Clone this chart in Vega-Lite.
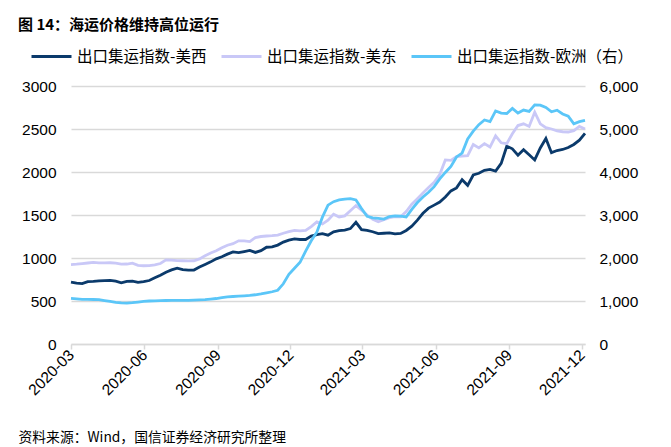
{
  "$schema": "https://vega.github.io/schema/vega-lite/v6.json",
  "width": 514,
  "height": 258,
  "autosize": {"type": "none"},
  "padding": {"left": 71, "top": 86, "right": 86, "bottom": 103},
  "background": "white",
  "title": {
    "text": "图 14：海运价格维持高位运行",
    "anchor": "start",
    "frame": "group",
    "dx": -53,
    "offset": 2,
    "fontSize": 15,
    "font": "Noto Sans CJK SC",
    "fontWeight": "bold",
    "color": "black"
  },
  "config": {
    "view": {"stroke": null},
    "axis": {"labelFont": "Liberation Sans", "labelColor": "black", "labelFontSize": 15.5}
  },
  "data": {
    "values": [
      {"d": "2020-03-06", "west": 720, "east": 924, "europe": 1060},
      {"d": "2020-03-13", "west": 708, "east": 928, "europe": 1050},
      {"d": "2020-03-20", "west": 702, "east": 935, "europe": 1040},
      {"d": "2020-03-27", "west": 726, "east": 942, "europe": 1037},
      {"d": "2020-04-03", "west": 728, "east": 949, "europe": 1035},
      {"d": "2020-04-10", "west": 735, "east": 944, "europe": 1030},
      {"d": "2020-04-17", "west": 738, "east": 943, "europe": 1010},
      {"d": "2020-04-24", "west": 740, "east": 945, "europe": 990},
      {"d": "2020-05-01", "west": 730, "east": 940, "europe": 970},
      {"d": "2020-05-08", "west": 712, "east": 928, "europe": 955},
      {"d": "2020-05-15", "west": 728, "east": 930, "europe": 952},
      {"d": "2020-05-22", "west": 731, "east": 940, "europe": 960},
      {"d": "2020-05-29", "west": 716, "east": 915, "europe": 975},
      {"d": "2020-06-05", "west": 724, "east": 910, "europe": 990},
      {"d": "2020-06-12", "west": 738, "east": 912, "europe": 1000},
      {"d": "2020-06-19", "west": 770, "east": 920, "europe": 1005},
      {"d": "2020-06-26", "west": 800, "east": 936, "europe": 1010},
      {"d": "2020-07-03", "west": 835, "east": 978, "europe": 1012},
      {"d": "2020-07-10", "west": 862, "east": 976, "europe": 1015},
      {"d": "2020-07-17", "west": 882, "east": 970, "europe": 1015},
      {"d": "2020-07-24", "west": 864, "east": 968, "europe": 1015},
      {"d": "2020-07-31", "west": 858, "east": 966, "europe": 1016},
      {"d": "2020-08-07", "west": 860, "east": 968, "europe": 1020},
      {"d": "2020-08-14", "west": 895, "east": 990, "europe": 1025},
      {"d": "2020-08-21", "west": 925, "east": 1025, "europe": 1032},
      {"d": "2020-08-28", "west": 955, "east": 1058, "europe": 1045},
      {"d": "2020-09-04", "west": 990, "east": 1085, "europe": 1058},
      {"d": "2020-09-11", "west": 1015, "east": 1118, "europe": 1080},
      {"d": "2020-09-18", "west": 1045, "east": 1148, "europe": 1098},
      {"d": "2020-09-25", "west": 1070, "east": 1166, "europe": 1105},
      {"d": "2020-10-02", "west": 1062, "east": 1200, "europe": 1112},
      {"d": "2020-10-09", "west": 1075, "east": 1198, "europe": 1120},
      {"d": "2020-10-16", "west": 1088, "east": 1190, "europe": 1130},
      {"d": "2020-10-23", "west": 1065, "east": 1238, "europe": 1145},
      {"d": "2020-10-30", "west": 1085, "east": 1250, "europe": 1165},
      {"d": "2020-11-06", "west": 1125, "east": 1256, "europe": 1190},
      {"d": "2020-11-13", "west": 1129, "east": 1260, "europe": 1215},
      {"d": "2020-11-20", "west": 1150, "east": 1266, "europe": 1250},
      {"d": "2020-11-27", "west": 1185, "east": 1288, "europe": 1400},
      {"d": "2020-12-04", "west": 1208, "east": 1306, "europe": 1620},
      {"d": "2020-12-11", "west": 1222, "east": 1322, "europe": 1760},
      {"d": "2020-12-18", "west": 1215, "east": 1315, "europe": 1900},
      {"d": "2020-12-25", "west": 1215, "east": 1320, "europe": 2160},
      {"d": "2021-01-01", "west": 1255, "east": 1365, "europe": 2400},
      {"d": "2021-01-08", "west": 1272, "east": 1420, "europe": 2600},
      {"d": "2021-01-15", "west": 1284, "east": 1395, "europe": 2950},
      {"d": "2021-01-22", "west": 1265, "east": 1440, "europe": 3230},
      {"d": "2021-01-29", "west": 1305, "east": 1510, "europe": 3310},
      {"d": "2021-02-05", "west": 1318, "east": 1477, "europe": 3350},
      {"d": "2021-02-12", "west": 1325, "east": 1490, "europe": 3370},
      {"d": "2021-02-19", "west": 1342, "east": 1550, "europe": 3380},
      {"d": "2021-02-26", "west": 1415, "east": 1610, "europe": 3350},
      {"d": "2021-03-05", "west": 1330, "east": 1555, "europe": 3150},
      {"d": "2021-03-12", "west": 1322, "east": 1500, "europe": 2970},
      {"d": "2021-03-19", "west": 1305, "east": 1450, "europe": 2935},
      {"d": "2021-03-26", "west": 1284, "east": 1422, "europe": 2920},
      {"d": "2021-04-02", "west": 1288, "east": 1445, "europe": 2905},
      {"d": "2021-04-09", "west": 1291, "east": 1470, "europe": 2965},
      {"d": "2021-04-16", "west": 1280, "east": 1482, "europe": 2980},
      {"d": "2021-04-23", "west": 1285, "east": 1480, "europe": 2975},
      {"d": "2021-04-30", "west": 1320, "east": 1540, "europe": 2955},
      {"d": "2021-05-07", "west": 1370, "east": 1625, "europe": 3130},
      {"d": "2021-05-14", "west": 1440, "east": 1690, "europe": 3290},
      {"d": "2021-05-21", "west": 1520, "east": 1755, "europe": 3420},
      {"d": "2021-05-28", "west": 1580, "east": 1820, "europe": 3530},
      {"d": "2021-06-04", "west": 1615, "east": 1880, "europe": 3660},
      {"d": "2021-06-11", "west": 1650, "east": 1970, "europe": 3840},
      {"d": "2021-06-18", "west": 1710, "east": 2140, "europe": 3990},
      {"d": "2021-06-25", "west": 1780, "east": 2135, "europe": 4130},
      {"d": "2021-07-02", "west": 1815, "east": 2180, "europe": 4350},
      {"d": "2021-07-09", "west": 1910, "east": 2185, "europe": 4440},
      {"d": "2021-07-16", "west": 1845, "east": 2190, "europe": 4770},
      {"d": "2021-07-23", "west": 1965, "east": 2320, "europe": 4950},
      {"d": "2021-07-30", "west": 1985, "east": 2280, "europe": 5100},
      {"d": "2021-08-06", "west": 2020, "east": 2330, "europe": 5210},
      {"d": "2021-08-13", "west": 2030, "east": 2290, "europe": 5170},
      {"d": "2021-08-20", "west": 2010, "east": 2420, "europe": 5420},
      {"d": "2021-08-27", "west": 2100, "east": 2340, "europe": 5370},
      {"d": "2021-09-03", "west": 2300, "east": 2330, "europe": 5360},
      {"d": "2021-09-10", "west": 2270, "east": 2445, "europe": 5480},
      {"d": "2021-09-17", "west": 2196, "east": 2540, "europe": 5370},
      {"d": "2021-09-24", "west": 2260, "east": 2560, "europe": 5440},
      {"d": "2021-10-01", "west": 2200, "east": 2530, "europe": 5410},
      {"d": "2021-10-08", "west": 2140, "east": 2695, "europe": 5560},
      {"d": "2021-10-15", "west": 2280, "east": 2560, "europe": 5555},
      {"d": "2021-10-22", "west": 2390, "east": 2515, "europe": 5500},
      {"d": "2021-10-29", "west": 2225, "east": 2500, "europe": 5400},
      {"d": "2021-11-05", "west": 2250, "east": 2478, "europe": 5437},
      {"d": "2021-11-12", "west": 2262, "east": 2468, "europe": 5350},
      {"d": "2021-11-19", "west": 2285, "east": 2465, "europe": 5300},
      {"d": "2021-11-26", "west": 2320, "east": 2480, "europe": 5120},
      {"d": "2021-12-03", "west": 2370, "east": 2530, "europe": 5170},
      {"d": "2021-12-10", "west": 2450, "east": 2500, "europe": 5200}
    ]
  },
  "encoding": {
    "x": {
      "field": "d",
      "type": "temporal",
      "scale": {
        "type": "utc",
        "domain": [
          {"year": 2020, "month": 3, "date": 6, "utc": true},
          {"year": 2021, "month": 12, "date": 10, "utc": true}
        ]
      },
      "title": "资料来源：Wind，国信证券经济研究所整理",
      "axis": {
        "values": [
          {"year": 2020, "month": 3, "date": 6, "utc": true},
          {"year": 2020, "month": 6, "date": 6, "utc": true},
          {"year": 2020, "month": 9, "date": 6, "utc": true},
          {"year": 2020, "month": 12, "date": 6, "utc": true},
          {"year": 2021, "month": 3, "date": 6, "utc": true},
          {"year": 2021, "month": 6, "date": 6, "utc": true},
          {"year": 2021, "month": 9, "date": 6, "utc": true},
          {"year": 2021, "month": 12, "date": 6, "utc": true}
        ],
        "labelExpr": "utcFormat(datum.value, '%Y-%m')",
        "labelAngle": -45,
        "labelAlign": "right",
        "labelBaseline": "middle",
        "labelPadding": 3,
        "labelFontSize": 15.5,
        "grid": false,
        "domainColor": "#d9d9d9",
        "domainWidth": 1.5,
        "tickColor": "#d9d9d9",
        "tickWidth": 1.5,
        "tickSize": 5,
        "labelOverlap": false,
        "titleFont": "Noto Sans CJK SC",
        "titleFontWeight": "normal",
        "titleFontSize": 13.8,
        "titleColor": "black",
        "titleAlign": "left",
        "titleBaseline": "alphabetic",
        "titleX": -53,
        "titleY": 97
      }
    }
  },
  "layer": [
    {
      "layer": [
        {
          "mark": {"type": "line", "strokeWidth": 2.8},
          "encoding": {
            "y": {
              "field": "west",
              "type": "quantitative",
              "scale": {"domain": [0, 3000]},
              "axis": {
                "title": null,
                "values": [0, 500, 1000, 1500, 2000, 2500, 3000],
                "format": "d",
                "grid": true,
                "gridColor": "#d9d9d9",
                "gridWidth": 1.3,
                "domain": false,
                "ticks": false,
                "labelPadding": 15
              }
            },
            "color": {
              "datum": "出口集运指数-美西",
              "type": "nominal",
              "scale": {
                "domain": ["出口集运指数-美西", "出口集运指数-美东", "出口集运指数-欧洲（右）"],
                "range": ["#0b3a6b", "#c9c8f7", "#5bc6f8"]
              },
              "legend": {
                "title": null,
                "orient": "none",
                "direction": "horizontal",
                "legendX": -41,
                "legendY": -51,
                "symbolType": "stroke",
                "symbolSize": 1600,
                "symbolStrokeWidth": 3,
                "labelFont": "Noto Sans CJK SC",
                "labelFontSize": 15.5,
                "labelColor": "black",
                "labelOffset": 4,
                "labelLimit": 300,
                "columnPadding": 8
              }
            }
          }
        },
        {
          "mark": {"type": "line", "strokeWidth": 2.8},
          "encoding": {
            "y": {
              "field": "east",
              "type": "quantitative",
              "scale": {"domain": [0, 3000]},
              "axis": {
                "title": null,
                "values": [0, 500, 1000, 1500, 2000, 2500, 3000],
                "format": "d",
                "grid": true,
                "gridColor": "#d9d9d9",
                "gridWidth": 1.3,
                "domain": false,
                "ticks": false,
                "labelPadding": 15
              }
            },
            "color": {"datum": "出口集运指数-美东", "type": "nominal"}
          }
        }
      ]
    },
    {
      "mark": {"type": "line", "strokeWidth": 2.8},
      "encoding": {
        "y": {
          "field": "europe",
          "type": "quantitative",
          "scale": {"domain": [0, 6000]},
          "axis": {
            "orient": "right",
            "title": null,
            "values": [0, 1000, 2000, 3000, 4000, 5000, 6000],
            "format": ",d",
            "grid": false,
            "domain": false,
            "ticks": false,
            "labelPadding": 14
          }
        },
        "color": {"datum": "出口集运指数-欧洲（右）", "type": "nominal"}
      }
    }
  ],
  "resolve": {"scale": {"y": "independent"}}
}
